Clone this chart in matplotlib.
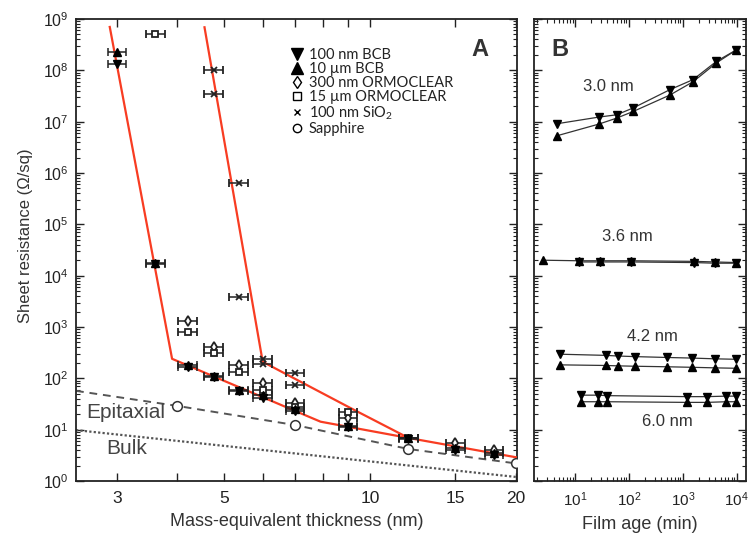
import numpy as np
import matplotlib
matplotlib.use("Agg")
import matplotlib.pyplot as plt
from matplotlib.lines import Line2D
from matplotlib.ticker import FixedLocator, NullFormatter, LogLocator, FixedFormatter

plt.rcParams['font.family'] = ['Liberation Sans', 'DejaVu Sans']
plt.rcParams['mathtext.fontset'] = 'custom'
plt.rcParams['mathtext.rm'] = 'Liberation Sans'

# ---------------- Panel A data ----------------
bcb100_x = [3.0, 3.6, 4.2, 4.75, 5.35, 6.0, 7.0, 9.0, 12.0, 15.0, 18.0]
bcb100_y = [1.3e8, 1.7e4, 165, 105, 57, 42, 23, 11.5, 6.6, 4.0, 3.2]
bcb10_x = [3.0, 3.6, 4.2, 4.75, 5.35, 6.0, 7.0, 9.0, 12.0, 15.0, 18.0]
bcb10_y = [2.3e8, 1.8e4, 180, 112, 60, 48, 25, 12.0, 7.0, 4.4, 3.5]
orm300_x = [4.2, 4.75, 5.35, 6.0, 7.0, 9.0, 15.0, 18.0]
orm300_y = [1300, 410, 180, 80, 33, 17, 5.4, 4.0]
orm15_x = [3.6, 4.2, 4.75, 5.35, 6.0, 7.0, 9.0, 12.0]
orm15_y = [5e8, 800, 310, 135, 60, 28, 22, 6.8]
sio2_x = [4.75, 4.75, 5.35, 5.35, 6.0, 6.0, 7.0, 7.0, 12.0]
sio2_y = [1e8, 3.5e7, 6.5e5, 3.8e3, 240, 190, 125, 75, 7.0]
sapph_x = [4.0, 7.0, 12.0, 20.0]
sapph_y = [29, 12.3, 4.2, 2.2]
xerr_frac = 0.045

fit1_x = [2.9, 3.9, 7.9, 12.0, 20.0]
fit1_y = [7e8, 240, 14.3, 6.9, 2.9]
fit2_x = [4.55, 6.0, 9.0, 12.0]
fit2_y = [6.9e8, 210, 28, 6.9]
epi_x = [2.47, 4.0, 7.0, 12.0, 20.0]
epi_y = [57, 29, 12.3, 4.2, 2.2]
bulk_x = [2.47, 20.0]
bulk_y = [9.8, 1.2]

legend_labels = ['100 nm BCB', '10 \u00b5m BCB', '300 nm ORMOCLEAR', '15 \u00b5m ORMOCLEAR',
                 '100 nm SiO$_{\\mathregular{2}}$', 'Sapphire']

xticks_A = [3, 4, 5, 6, 7, 8, 9, 10, 15, 20]
xticklabels_A = ['3', '', '5', '', '', '', '', '10', '15', '20']

# ---------------- Panel B data ----------------
b30_x = [4.6, 28, 59, 120, 575, 1550, 4200, 9800]
b30_down = [9.1e6, 1.23e7, 1.36e7, 1.85e7, 4.2e7, 6.6e7, 1.5e8, 2.5e8]
b30_up = [5.3e6, 9.0e6, 1.17e7, 1.58e7, 3.3e7, 6.0e7, 1.4e8, 2.5e8]
b36_up_x = [2.6, 12, 29, 109, 1600, 3900, 9800]
b36_up = [2.0e4, 1.95e4, 1.95e4, 1.95e4, 1.9e4, 1.85e4, 1.8e4]
b36_down_x = [12, 29, 109, 1600, 3900, 9800]
b36_down = [1.85e4, 1.85e4, 1.85e4, 1.8e4, 1.75e4, 1.75e4]
b42_x = [5.3, 37.5, 63, 129, 500, 1500, 3900, 9600]
b42_down = [295, 280, 272, 265, 255, 248, 240, 235]
b42_up = [183, 178, 175, 172, 168, 164, 160, 157]
b60_x = [13, 27, 40, 1200, 2800, 6400, 9600]
b60_down = [47, 47, 46, 44, 44, 45, 45]
b60_up = [35, 35, 35, 34, 34, 35, 35]

fig = plt.figure(figsize=(7.49, 5.34), dpi=100)
axA = fig.add_axes([76/749, 53/534, (517-76)/749, (481-19)/534])
axB = fig.add_axes([534/749, 53/534, (746-534)/749, (481-19)/534])

red = '#f83c22'
dark = '#222222'

def xerr_of(xs):
    xs = np.asarray(xs, float)
    return np.vstack([xs - xs / (1 + xerr_frac), xs * (1 + xerr_frac) - xs])

# fitted lines / reference lines
axA.plot(bulk_x, bulk_y, color='#555555', lw=1.6, ls=(0, (1, 1)), zorder=2)
axA.plot(epi_x, epi_y, color='#555555', lw=1.4, ls=(0, (4, 3)), zorder=2)
axA.plot(fit1_x, fit1_y, color=red, lw=1.6, zorder=3)
axA.plot(fit2_x, fit2_y, color=red, lw=1.6, zorder=3)

ekw = dict(ls='none', ecolor=dark, elinewidth=1.1, capsize=3.2, capthick=1.1, zorder=4)
axA.errorbar(orm300_x, orm300_y, xerr=xerr_of(orm300_x), fmt='d', ms=5.5, mfc='white', mec=dark, mew=1.3, **ekw)
axA.errorbar(orm15_x, orm15_y, xerr=xerr_of(orm15_x), fmt='s', ms=4.5, mfc='white', mec=dark, mew=1.3, **ekw)
axA.errorbar(sio2_x, sio2_y, xerr=xerr_of(sio2_x), fmt='x', ms=5, mec=dark, mew=1.3, **ekw)
axA.errorbar(bcb10_x, bcb10_y, xerr=xerr_of(bcb10_x), fmt='^', ms=6, mfc='black', mec='black', **ekw)
axA.errorbar(bcb100_x, bcb100_y, xerr=xerr_of(bcb100_x), fmt='v', ms=6, mfc='black', mec='black', **ekw)
axA.plot(sapph_x, sapph_y, 'o', ms=7, mfc='white', mec='#333333', mew=1.1, zorder=5, ls='none')

axA.set_xscale('log')
axA.set_yscale('log')
axA.set_xlim(2.47, 20.1)
axA.set_ylim(1, 1e9)
axA.xaxis.set_major_locator(FixedLocator(xticks_A))
axA.xaxis.set_major_formatter(FixedFormatter(xticklabels_A))
axA.xaxis.set_minor_locator(FixedLocator([]))
axA.yaxis.set_major_locator(LogLocator(base=10, numticks=20))
axA.yaxis.set_minor_locator(LogLocator(base=10, subs=np.arange(2, 10), numticks=20))
axA.yaxis.set_minor_formatter(NullFormatter())

for ax in (axA, axB):
    ax.tick_params(which='both', direction='in', top=True, right=True, colors=dark)
    ax.tick_params(which='major', length=6, width=1.0)
    ax.tick_params(which='minor', length=3, width=0.8)
    ax.tick_params(axis='x', labelsize=12.5, pad=7)
    ax.tick_params(axis='y', labelsize=11.5, pad=5)
    for s in ax.spines.values():
        s.set_linewidth(1.3)
        s.set_color(dark)
axB.tick_params(axis='x', labelsize=11, pad=7)

axA.set_xlabel('Mass-equivalent thickness (nm)', fontsize=13, color='#333333', labelpad=5)
axA.set_ylabel('Sheet resistance (\u03a9/sq)', fontsize=12, color='#333333')
axA.yaxis.set_label_coords(-0.097, 0.53)

axA.text(0.112, 0.148, 'Epitaxial', transform=axA.transAxes, fontsize=15, color='#444444', ha='center', va='center')
axA.text(0.116, 0.071, 'Bulk', transform=axA.transAxes, fontsize=15, color='#444444', ha='center', va='center')
axA.text(0.915, 0.935, 'A', transform=axA.transAxes, fontsize=17, fontweight='bold', color='#333333', ha='center', va='center')

# legend
handles = [
    Line2D([], [], ls='none', marker='v', ms=9, mfc='black', mec='black'),
    Line2D([], [], ls='none', marker='^', ms=9, mfc='black', mec='black'),
    Line2D([], [], ls='none', marker='d', ms=6, mfc='white', mec='black'),
    Line2D([], [], ls='none', marker='s', ms=5.5, mfc='white', mec='black'),
    Line2D([], [], ls='none', marker='x', ms=5, mec='black'),
    Line2D([], [], ls='none', marker='o', ms=6, mfc='white', mec='black'),
]
leg = axA.legend(handles, legend_labels, loc='upper left', bbox_to_anchor=(0.487, 0.937), frameon=False,
                 handlelength=0.8, handletextpad=0.45, labelspacing=0.0, borderaxespad=0,
                 borderpad=0, prop={'family': ['Lato', 'DejaVu Sans'], 'size': 10.5})
for t in leg.get_texts():
    t.set_color('#222222')

# ---------------- Panel B ----------------
lkw = dict(color='#333333', lw=0.9, zorder=2)
for xs, ys in [(b30_x, b30_down), (b30_x, b30_up), (b36_up_x, b36_up), (b36_down_x, b36_down),
               (b42_x, b42_down), (b42_x, b42_up), (b60_x, b60_down), (b60_x, b60_up)]:
    axB.plot(xs, ys, **lkw)
mkw = dict(ls='none', mfc='black', mec='black', ms=6, zorder=3)
axB.plot(b30_x, b30_down, marker='v', **mkw)
axB.plot(b30_x, b30_up, marker='^', **mkw)
axB.plot(b36_up_x, b36_up, marker='^', **mkw)
axB.plot(b36_down_x, b36_down, marker='v', **mkw)
axB.plot(b42_x, b42_down, marker='v', **mkw)
axB.plot(b42_x, b42_up, marker='^', **mkw)
axB.plot(b60_x, b60_down, marker='v', **mkw)
axB.plot(b60_x, b60_up, marker='^', **mkw)

axB.set_xscale('log')
axB.set_yscale('log')
axB.set_xlim(1.74, 14800)
axB.set_ylim(1, 1e9)
axB.xaxis.set_major_locator(FixedLocator([10, 100, 1000, 10000]))
axB.xaxis.set_minor_locator(LogLocator(base=10, subs=np.arange(2, 10), numticks=20))
axB.xaxis.set_minor_formatter(NullFormatter())
axB.yaxis.set_major_locator(LogLocator(base=10, numticks=20))
axB.yaxis.set_minor_locator(LogLocator(base=10, subs=np.arange(2, 10), numticks=20))
axB.yaxis.set_major_formatter(NullFormatter())
axB.yaxis.set_minor_formatter(NullFormatter())
axB.set_xlabel('Film age (min)', fontsize=13, color='#333333', labelpad=5)

axB.text(0.12, 0.935, 'B', transform=axB.transAxes, fontsize=17, fontweight='bold', color='#333333', ha='center', va='center')
tkw = dict(transform=axB.transAxes, fontsize=12, color='#333333', ha='center', va='center')
axB.text(0.35, 0.853, '3.0 nm', **tkw)
axB.text(0.44, 0.529, '3.6 nm', **tkw)
axB.text(0.56, 0.312, '4.2 nm', **tkw)
axB.text(0.63, 0.128, '6.0 nm', **tkw)

fig.savefig('out.png', dpi=100)
